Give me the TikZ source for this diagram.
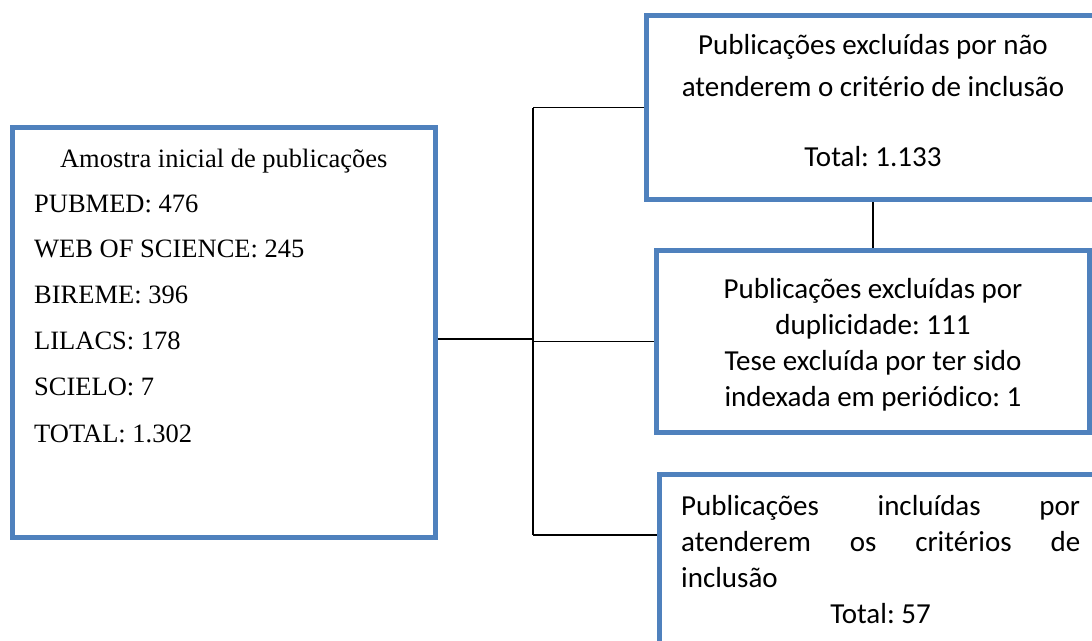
\documentclass[tikz,border=0pt]{standalone}
\usepackage{fontspec}
\setmainfont{Liberation Serif}
\newfontfamily\calfont{Carlito}
\definecolor{boxblue}{HTML}{4F81BD}
\tikzset{
  frame/.style={draw=boxblue, line width=5pt, inner sep=0pt},
  conn/.style={draw=black, line width=1.5pt},
  serif/.style={font=\frenchspacing\fontsize{26.5}{30}\selectfont, inner sep=0pt},
  sans/.style={font=\frenchspacing\calfont\fontsize{29}{35}\selectfont, inner sep=0pt},
}
\begin{document}
\frenchspacing
\begin{tikzpicture}[x=1pt,y=-1pt]
\useasboundingbox (0,0) rectangle (1092,640);
\clip (0,0) rectangle (1092,640);
\fill[white] (0,0) rectangle (1092,640);
% boxes
\node[frame, minimum width=422.5pt, minimum height=410.5pt] (src) at (223.75,332.25) {};
\node[frame, minimum width=454.5pt, minimum height=184pt] (exc1) at (873.75,107.5) {};
\node[frame, minimum width=433pt, minimum height=182pt] (exc2) at (873,341.5) {};
\node[frame, minimum width=442pt, minimum height=260pt] (inc) at (880.5,604.5) {};
% connectors
\coordinate (tr) at (533,0);
\coordinate (jl) at (533,339);
\coordinate (jb) at (533,535);
\draw[conn] (src.east |- jl) -- (jl);
\draw[conn] (tr |- exc1.west) -- (jb);
\draw[conn] (tr |- exc1.west) -- (exc1.west);
\draw[conn] (tr |- exc2.west) -- (exc2.west);
\draw[conn] (jb) -- (jb -| inc.west);
\draw[conn] (exc2.north) -- (exc2.north |- exc1.south);
% left text
\node[serif, anchor=base] (s0) at (223.75,167) {Amostra inicial de publicações};
\node[serif, anchor=base west] (s1) at (34,212) {PUBMED: 476};
\node[serif, anchor=base west] (s2) at (34,257) {WEB OF SCIENCE: 245};
\node[serif, anchor=base west] (s3) at (34,303) {BIREME: 396};
\node[serif, anchor=base west] (s4) at (34,349) {LILACS: 178};
\node[serif, anchor=base west] (s5) at (34,395) {SCIELO: 7};
\node[serif, anchor=base west] (s6) at (34,442) {TOTAL: 1.302};
% top right text
\node[sans, anchor=base] (a1) at (873,54) {Publicações excluídas por não};
\node[sans, anchor=base] (a2) at (873,96) {atenderem o critério de inclusão};
\node[sans, anchor=base] (a3) at (873,166) {Total: 1.133};
% middle text
\node[sans, anchor=base] (b1) at (873,298) {Publicações excluídas por};
\node[sans, anchor=base] (b2) at (873,334) {duplicidade: 111};
\node[sans, anchor=base] (b3) at (873,370) {Tese excluída por ter sido};
\node[sans, anchor=base] (b4) at (873,406) {indexada em periódico: 1};
% bottom text
\node[sans, anchor=base west] (c1) at (681,515) {\makebox[399pt][s]{Publicações\hfill incluídas\hfill por}};
\node[sans, anchor=base west] (c2) at (681,551) {\makebox[399pt][s]{atenderem\hfill os\hfill critérios\hfill de}};
\node[sans, anchor=base west] (c3) at (681,587) {inclusão};
\node[sans, anchor=base] (c4) at (880.5,623) {Total: 57};
\end{tikzpicture}
\end{document}
